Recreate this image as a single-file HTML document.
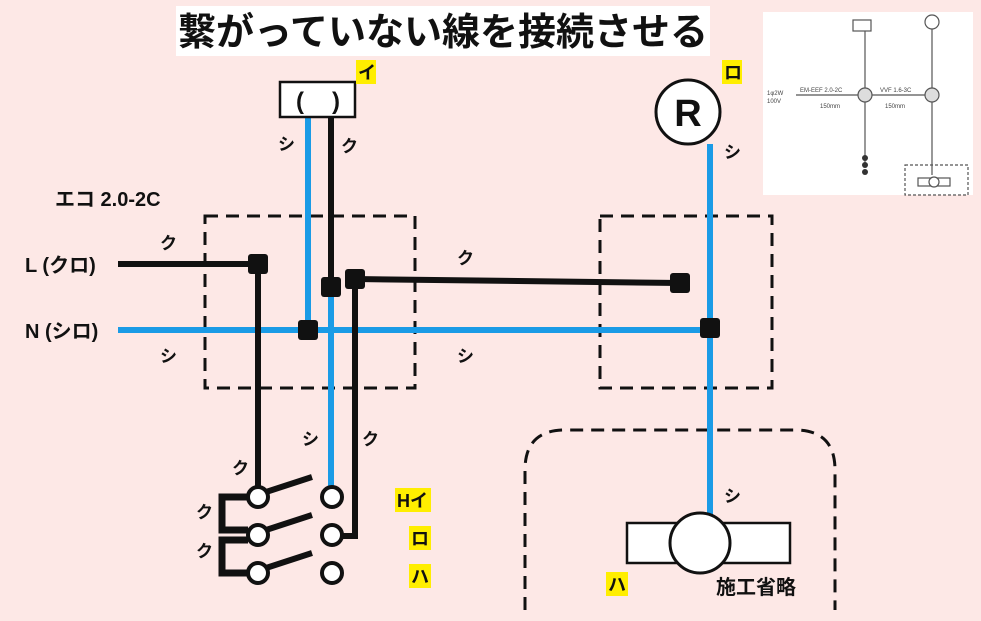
<!DOCTYPE html>
<html><head><meta charset="utf-8"><style>
html,body{margin:0;padding:0;background:#fde8e6;}
svg{display:block}
text{font-family:"Liberation Sans","Noto Sans CJK JP",sans-serif;font-weight:bold;fill:#111}
</style></head><body>
<svg width="981" height="621" viewBox="0 0 981 621" xmlns="http://www.w3.org/2000/svg">
<rect width="981" height="621" fill="#fde8e6"/>
<rect x="176" y="6" width="534" height="50" fill="#fff"/>
<text x="443" y="45" font-size="38" text-anchor="middle" font-weight="normal">繋がっていない線を接続させる</text>

<g>
<rect x="763" y="12" width="210" height="183" fill="#fff"/>
<g stroke="#555" stroke-width="1.2" fill="none">
<rect x="853" y="20" width="18" height="11"/>
<circle cx="932" cy="22" r="7"/>
<line x1="865" y1="31" x2="865" y2="165"/>
<line x1="932" y1="29" x2="932" y2="175"/>
<line x1="796" y1="95" x2="932" y2="95"/>
<circle cx="865" cy="95" r="7" fill="#ddd"/>
<circle cx="932" cy="95" r="7" fill="#ddd"/>
<rect x="905" y="165" width="63" height="30" stroke-dasharray="3,2"/>
<rect x="918" y="178" width="32" height="8"/>
<circle cx="934" cy="182" r="5" fill="#fff"/>
</g>
<circle cx="865" cy="158" r="3" fill="#333"/><circle cx="865" cy="165" r="3" fill="#333"/><circle cx="865" cy="172" r="3" fill="#333"/>
<g font-size="6">
<text x="800" y="92" style="fill:#444;font-weight:normal">EM-EEF 2.0-2C</text>
<text x="880" y="92" style="fill:#444;font-weight:normal">VVF 1.6-3C</text>
<text x="820" y="108" style="fill:#444;font-weight:normal">150mm</text>
<text x="885" y="108" style="fill:#444;font-weight:normal">150mm</text>
<text x="767" y="95" style="fill:#444;font-weight:normal">1φ2W</text>
<text x="767" y="103" style="fill:#444;font-weight:normal">100V</text>
</g>
</g>

<g stroke="#111" stroke-width="3" fill="none" stroke-dasharray="13,8">
<rect x="205" y="216" width="210" height="172"/>
<rect x="600" y="216" width="172" height="172"/>
<path d="M525 610 V470 Q525 430 565 430 H795 Q835 430 835 470 V610"/>
</g>

<g stroke="#1a9be6" stroke-width="6" fill="none">
<line x1="118" y1="330" x2="712" y2="330"/>
<line x1="308" y1="117" x2="308" y2="330"/>
<line x1="331" y1="290" x2="331" y2="487"/>
<line x1="710" y1="144" x2="710" y2="523"/>
</g>
<g stroke="#111" stroke-width="6" fill="none">
<line x1="118" y1="264" x2="258" y2="264"/>
<line x1="258" y1="264" x2="258" y2="487"/>
<line x1="331" y1="117" x2="331" y2="288"/>
<line x1="355" y1="279" x2="680" y2="283"/>
<polyline points="355,279 355,536 343,536"/>
<path d="M248 497 H222 V530 H248 M248 540 H222 V573 H248" stroke-width="7"/>
<line x1="266" y1="492" x2="312" y2="477"/>
<line x1="266" y1="530" x2="312" y2="515"/>
<line x1="266" y1="568" x2="312" y2="553"/>
</g>
<g fill="#111">
<rect x="248" y="254" width="20" height="20" rx="3"/>
<rect x="321" y="277" width="20" height="20" rx="3"/>
<rect x="345" y="269" width="20" height="20" rx="3"/>
<rect x="298" y="320" width="20" height="20" rx="3"/>
<rect x="670" y="273" width="20" height="20" rx="3"/>
<rect x="700" y="318" width="20" height="20" rx="3"/>
</g>
<g fill="#fff" stroke="#111" stroke-width="4">
<circle cx="258" cy="497" r="10"/><circle cx="258" cy="535" r="10"/><circle cx="258" cy="573" r="10"/>
<circle cx="332" cy="497" r="10"/><circle cx="332" cy="535" r="10"/><circle cx="332" cy="573" r="10"/>
</g>

<rect x="280" y="82" width="75" height="35" fill="#fff" stroke="#111" stroke-width="2.5"/>
<text x="300" y="109" font-size="24" text-anchor="middle">(</text>
<text x="336" y="109" font-size="24" text-anchor="middle">)</text>
<circle cx="688" cy="112" r="32" fill="#fff" stroke="#111" stroke-width="3"/>
<text x="688" y="126" font-size="38" text-anchor="middle">R</text>
<rect x="627" y="523" width="163" height="40" fill="#fff" stroke="#111" stroke-width="2.5"/>
<circle cx="700" cy="543" r="30" fill="#fff" stroke="#111" stroke-width="3"/>

<g fill="#ffee00">
<rect x="356" y="60" width="20" height="24"/><rect x="722" y="60" width="20" height="24"/>
<rect x="395" y="488" width="36" height="24"/><rect x="409" y="526" width="22" height="24"/>
<rect x="409" y="564" width="22" height="24"/><rect x="606" y="572" width="22" height="24"/>
</g>
<g font-size="18">
<text x="358" y="79">イ</text>
<text x="724" y="79">ロ</text>
<text x="397" y="507">Hイ</text>
<text x="411" y="545">ロ</text>
<text x="411" y="583">ハ</text>
<text x="608" y="591">ハ</text>
</g>
<text x="716" y="594" font-size="20">施工省略</text>

<text x="55" y="206" font-size="20">エコ 2.0-2C</text>
<text x="25" y="272" font-size="20">L (クロ)</text>
<text x="25" y="338" font-size="20">N (シロ)</text>

<g font-size="17">
<text x="160" y="249">ク</text><text x="160" y="362">シ</text>
<text x="278" y="150">シ</text><text x="341" y="152">ク</text>
<text x="457" y="264">ク</text><text x="457" y="362">シ</text>
<text x="724" y="158">シ</text><text x="724" y="502">シ</text>
<text x="302" y="445">シ</text><text x="362" y="445">ク</text>
<text x="232" y="474">ク</text><text x="196" y="518">ク</text><text x="196" y="557">ク</text>
</g>
</svg>
</body></html>
